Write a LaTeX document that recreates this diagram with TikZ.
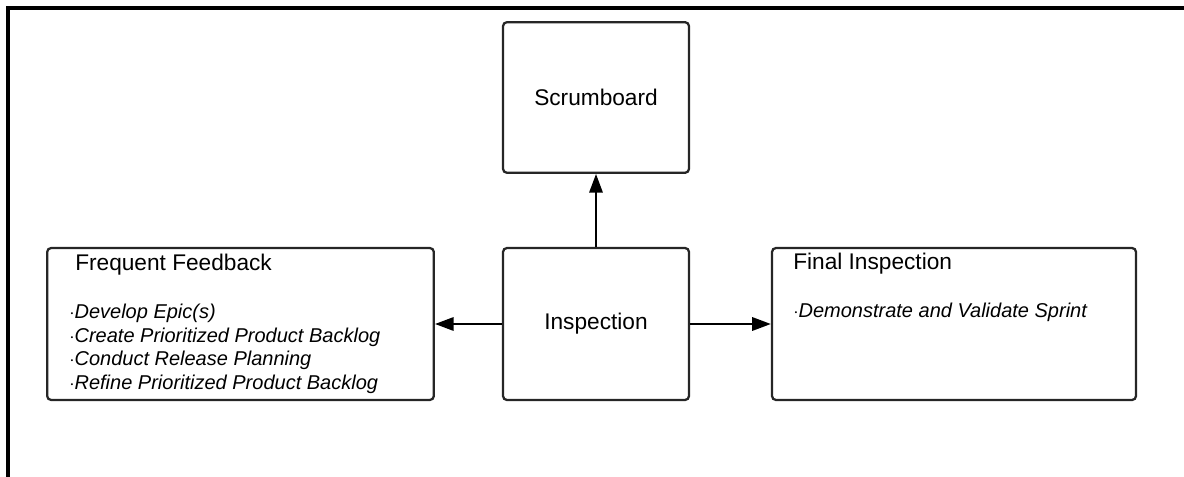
\documentclass[tikz,border=0pt]{standalone}
\usepackage{fontspec}
\setmainfont{Liberation Sans}
\usetikzlibrary{arrows.meta}

\tikzset{
  block/.style={draw=black!85, line width=1.7pt, rounded corners=3pt, inner sep=0pt},
  flow/.style={line width=1.6pt, -{Triangle[length=14pt,width=10pt]}},
  headfont/.style={font=\fontsize{17}{20}\selectfont},
  itemfont/.style={font=\fontsize{15}{17.6}\selectfont\itshape},
}

\begin{document}
\begin{tikzpicture}[x=0.75pt,y=0.75pt,yscale=-1,xscale=1]

\useasboundingbox (0,0) rectangle (1184,477);

% frame
\draw [line width=3pt] (1184,8) -- (8,8) -- (8,477) ;


\draw (596,97.5) node [block, minimum width=139.5pt, minimum height=113pt] [headfont] (scrum) {Scrumboard};

\draw (596,324) node [block, minimum width=139.5pt, minimum height=114pt] [headfont] (insp) {Inspection};

\draw (240.5,324) node [block, minimum width=290pt, minimum height=114pt] (feed) {};

\draw (954,324) node [block, minimum width=273pt, minimum height=114pt] (final) {};


\draw (75,270) node [anchor=base west][inner sep=0pt] [headfont] (feedhead) {Frequent Feedback};

\draw (69,389) node [anchor=base west][inner sep=0pt] [align=left] [itemfont] (feeditems) {$\cdot$Develop Epic(s)\\ $\cdot$Create Prioritized Product Backlog\\ $\cdot$Conduct Release Planning\\ $\cdot$Refine Prioritized Product Backlog};

\draw (793,269) node [anchor=base west][inner sep=0pt] [headfont] (finalhead) {Final Inspection};

\draw (793,317) node [anchor=base west][inner sep=0pt] [itemfont] (finalitem) {$\cdot$Demonstrate and Validate Sprint};


\draw [flow] (insp) -- (scrum) ;

\draw [flow] (insp) -- (feed) ;

\draw [flow] (insp) -- (final) ;

\end{tikzpicture}
\end{document}
